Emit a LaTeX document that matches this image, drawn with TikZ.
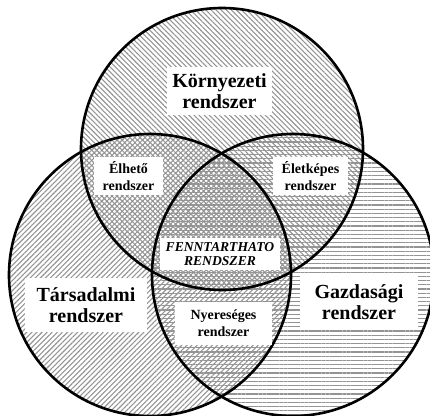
\documentclass[tikz,border=0pt]{standalone}
\usepackage{fontspec}
\setmainfont{Liberation Serif}
\usetikzlibrary{patterns.meta}
\tikzset{
  ring/.style={line width=2.6pt, draw=black},
  bigbox/.style={fill=white, inner sep=0pt, align=center, font=\bfseries\fontsize{20}{21}\selectfont},
  smallbox/.style={fill=white, inner sep=0pt, align=center, font=\bfseries\fontsize{14}{17}\selectfont},
  centerbox/.style={fill=white, inner sep=0pt, align=center, font=\bfseries\itshape\fontsize{13.6}{14}\selectfont},
}
\begin{document}
\begin{tikzpicture}[x=1pt,y=-1pt]
\useasboundingbox (0,0) rectangle (430,415);
\coordinate (ct) at (222,149);
\coordinate (cl) at (150,275);
\coordinate (cr) at (293,275);
% hatched fills
\fill[pattern={Lines[angle=-45,distance=3.6pt,line width=1.1pt]}, pattern color=black!42] (ct) circle[radius=141pt];
\fill[pattern={Lines[angle=45,distance=3.6pt,line width=1.1pt]}, pattern color=black!42] (cl) circle[radius=141pt];
\fill[pattern={Lines[angle=0,distance=4.2pt,line width=1.1pt]}, pattern color=black!42] (cr) circle[radius=141pt];
% outlines
\draw[ring] (ct) circle[radius=141pt];
\draw[ring] (cl) circle[radius=141pt];
\draw[ring] (cr) circle[radius=141pt];
% labels
\node[bigbox, minimum width=105pt, minimum height=48pt] (korny) at (219.5,91) {Környezeti\\rendszer};
\node[bigbox, minimum width=122pt, minimum height=54pt] (tars) at (86,305) {Társadalmi\\rendszer};
\node[bigbox, minimum width=118pt, minimum height=55pt] (gazd) at (359,302.5) {Gazdasági\\rendszer};
\node[smallbox, minimum width=69pt, minimum height=38pt] (elh) at (128.5,176) {Élhető\\rendszer};
\node[smallbox, minimum width=75pt, minimum height=38pt] (elet) at (310.5,176) {Életképes\\rendszer};
\node[smallbox, minimum width=97pt, minimum height=43pt] (nyer) at (223.5,323.5) {Nyereséges\\rendszer};
\node[centerbox, minimum width=120pt, minimum height=32pt] (fennt) at (220,254) {FENNTARTHATO\\RENDSZER};
\end{tikzpicture}
\end{document}
